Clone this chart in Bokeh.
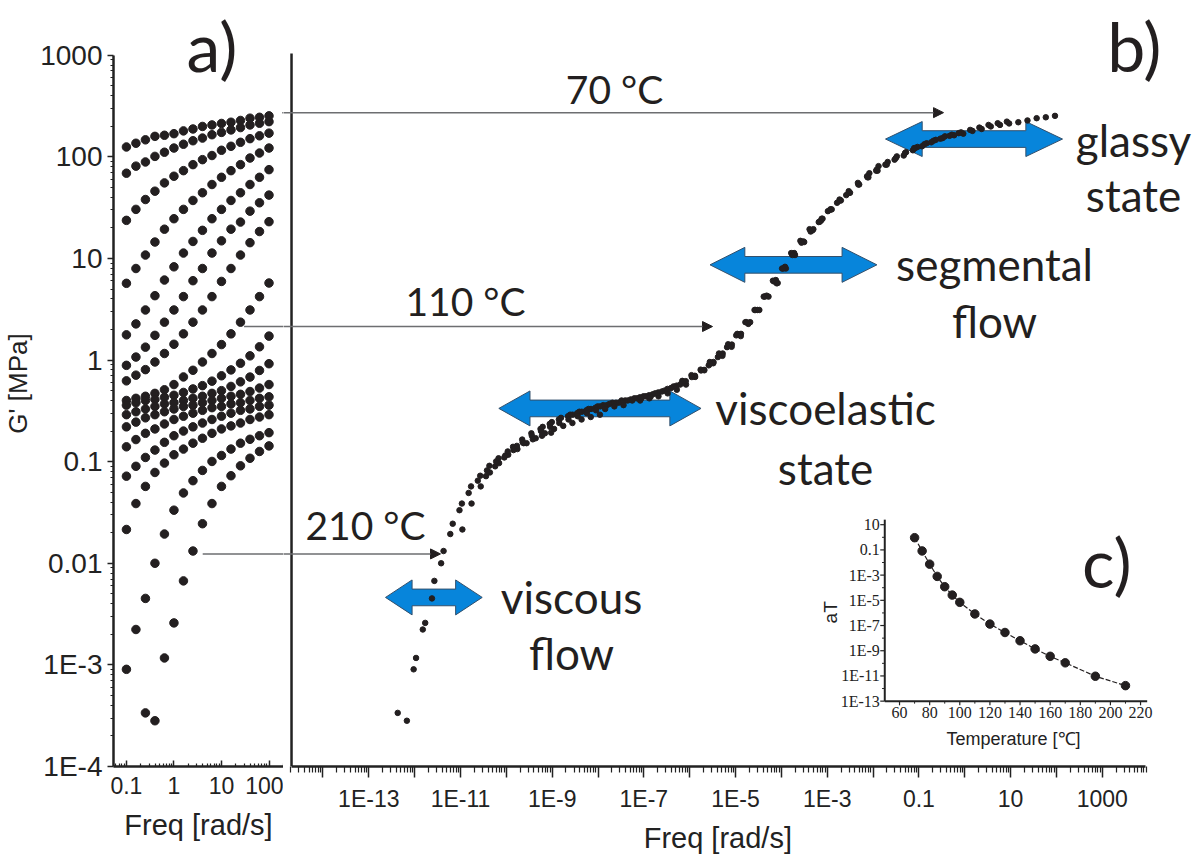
import math
from bokeh.plotting import figure
from bokeh.layouts import row
from bokeh.models import (Range1d, LogScale, LinearScale, FixedTicker, CustomJSTickFormatter,
                          Label, LabelSet, Arrow, NormalHead, ColumnDataSource)
from bokeh.embed import file_html
from bokeh.resources import INLINE

# ---------------- data ----------------
freq = [0.1, 0.1585, 0.2512, 0.3981, 0.631, 1.0, 1.585, 2.512, 3.981, 6.31,
        10.0, 15.85, 25.12, 39.81, 63.1, 100.0]
temps = [70, 75, 80, 85, 90, 95, 100, 110, 120, 130, 140, 150, 160, 170, 190, 210]
aT = [0.93, 0.083, 7.4e-3, 7.9e-4, 1.2e-4, 2.6e-5, 6.9e-6, 8.3e-7, 1.3e-7, 2.8e-8,
      6.2e-9, 1.4e-9, 3.6e-10, 1.1e-10, 9.5e-12, 1.7e-12]

NaN = float("nan")
g70 = [125, 136, 147, 159, 163, 169, 180, 188, 199, 206, 213, 219, 228, 240, 245, 253]
g75 = [69, 81, 89, 101, 111, 122, 133, 144, 153, 165, 174, 184, 194, 206, 214, 222]
g80 = [23.7, 30.4, 38, 45.9, 55.4, 64.4, 73.1, 83.8, 93.8, 103, 116, 127, 139, 151, 161, 171]
g85 = [5.69, 7.96, 10.8, 14.5, 19.4, 24.6, 30.4, 37.2, 44.3, 53.4, 62.9, 73.1, 83.8, 97.3, 109, 122]
g90 = [1.77, 2.27, 3.11, 4.30, 6.13, 8.27, 11.3, 14.7, 18.9, 24.6, 30.4, 37.2, 44.3, 53.4, 62.9, 74.8]
g95 = [0.887, 1.07, 1.34, 1.75, 2.36, 3.11, 4.21, 6.04, 7.96, 11.3, 14.9, 19.4, 22.8, 29.2, 35.3, 42.0]
g100 = [0.624, 0.710, 0.805, 0.957, 1.16, 1.43, 1.81, 2.36, 3.11, 4.21, 5.94, 7.96, 10.8, 14.3, 18.4, 23.0]
g110 = [0.40, 0.42, 0.44, 0.47, 0.51, 0.574, 0.682, 0.793, 0.957, 1.16, 1.42, 1.81, 2.36, 3.11, 4.21, 5.73]
g120 = [0.36, 0.38, 0.40, 0.41, 0.43, 0.45, 0.48, 0.52, 0.56, 0.62, 0.70, 0.80, 0.93, 1.10, 1.35, 1.72]
g130 = [0.29, 0.31, 0.33, 0.35, 0.37, 0.38, 0.40, 0.42, 0.44, 0.47, 0.50, 0.55, 0.61, 0.68, 0.79, 0.92]
g140 = [0.22, 0.245, 0.27, 0.29, 0.31, 0.33, 0.35, 0.36, 0.38, 0.40, 0.42, 0.44, 0.46, 0.49, 0.53, 0.574]
g150 = [0.14, 0.165, 0.19, 0.21, 0.235, 0.26, 0.28, 0.30, 0.32, 0.34, 0.35, 0.37, 0.38, 0.40, 0.42, 0.435]
g160 = [0.072, 0.09, 0.11, 0.13, 0.155, 0.18, 0.20, 0.22, 0.24, 0.26, 0.28, 0.30, 0.32, 0.33, 0.35, 0.36]
g170 = [0.0215, 0.0387, 0.0571, 0.0783, 0.0968, 0.117, 0.133, 0.152, 0.17, 0.19, 0.21, 0.225, 0.24, 0.26, 0.275, 0.29]
g190 = [0.000904, 0.00223, 0.00451, 0.0100, 0.0194, 0.0333, 0.0492, 0.0650, 0.0820, 0.1005,
        0.115, 0.133, 0.152, 0.166, 0.180, 0.193]
g210 = [NaN, NaN, 0.000337, 0.000282, 0.00117, 0.00259, 0.00671, 0.0132, 0.0245, 0.0387,
        0.0571, 0.0727, 0.0910, 0.108, 0.126, 0.143]
G_series = [g70, g75, g80, g85, g90, g95, g100, g110, g120, g130, g140, g150, g160, g170, g190, g210]

# inset ticks
inset_xticks = [60, 80, 100, 120, 140, 160, 180, 200, 220]
inset_yticks = [1e1, 1e-1, 1e-3, 1e-5, 1e-7, 1e-9, 1e-11, 1e-13]
inset_ylabels = ["10", "0.1", "1E-3", "1E-5", "1E-7", "1E-9", "1E-11", "1E-13"]

# ---------------- styling constants ----------------
INK = "#231f20"
AX = "#222222"
BLUE = "#0785db"
BLUE_EDGE = "#34506c"
TXT_FONT = "Lato"
AX_FONT = "Liberation Sans"

YR = Range1d(1e-4, 10 ** 3.5385)

pa = figure(width=283, height=856, x_axis_type="log", y_axis_type="log",
            x_range=Range1d(10 ** -1.272, 10 ** 2.305), y_range=YR,
            output_backend="svg", toolbar_location=None,
            min_border_left=112, min_border_right=0, min_border_top=0, min_border_bottom=86)
pb = figure(width=917, height=856, x_axis_type="log", y_axis_type="log",
            x_range=Range1d(10 ** -14.861, 10 ** 5.143), y_range=YR, y_axis_location=None,
            output_backend="svg", toolbar_location=None,
            min_border_left=0, min_border_right=0, min_border_top=0, min_border_bottom=86)

for p in (pa, pb):
    p.outline_line_color = None
    p.grid.visible = False
    p.background_fill_color = "white"
    p.border_fill_color = "white"

def style_axis(ax):
    ax.axis_line_width = 2.5
    ax.axis_line_color = AX
    ax.major_tick_line_color = AX
    ax.minor_tick_line_color = AX
    ax.major_tick_line_width = 1.5
    ax.minor_tick_line_width = 1.2
    ax.major_label_text_font = AX_FONT
    ax.major_label_text_color = AX
    ax.axis_label_text_font = AX_FONT
    ax.axis_label_text_font_style = "normal"
    ax.axis_label_text_color = AX

fmt_all = CustomJSTickFormatter(code="""
const e = Math.round(Math.log10(tick));
if (e <= -3) return "1E" + e;
if (e < 0) return Math.pow(10, e).toFixed(-e);
return String(Math.round(Math.pow(10, e)));
""")
fmt_odd = CustomJSTickFormatter(code="""
const e = Math.round(Math.log10(tick));
if (Math.abs(e) % 2 == 0) return "";
if (e <= -3) return "1E" + e;
if (e < 0) return Math.pow(10, e).toFixed(-e);
return String(Math.round(Math.pow(10, e)));
""")

ya = pa.yaxis[0]
style_axis(ya)
ya.bounds = (1e-4, 1e3)
ya.ticker = FixedTicker(ticks=[10.0 ** k for k in range(-4, 4)],
                        minor_ticks=[m * 10.0 ** k for k in range(-4, 3) for m in range(2, 10)])
ya.formatter = fmt_all
ya.major_label_text_font_size = "28px"
ya.major_tick_out = 6
ya.major_tick_in = 0
ya.minor_tick_out = 3
ya.minor_tick_in = 0
ya.major_label_standoff = 5
ya.axis_label = "G' [MPa]"
ya.axis_label_text_font_size = "26px"
ya.axis_label_standoff = 4

xa = pa.xaxis[0]
style_axis(xa)
xa.ticker = FixedTicker(ticks=[0.1, 1.0, 10.0, 100.0],
                        minor_ticks=[m * 10.0 ** k for k in range(-2, 3) for m in range(2, 10)])
xa.formatter = fmt_all
xa.major_label_text_font_size = "23px"
xa.major_tick_in = 6
xa.major_tick_out = 0
xa.minor_tick_in = 3
xa.minor_tick_out = 0
xa.major_label_standoff = 10
xa.axis_label = "Freq [rad/s]"
xa.axis_label_text_font_size = "29px"
xa.axis_label_standoff = 12

xb = pb.xaxis[0]
style_axis(xb)
xb.bounds = (10 ** -14.686, 10 ** 3.943)
xb.ticker = FixedTicker(ticks=[10.0 ** k for k in range(-14, 4)],
                        minor_ticks=[m * 10.0 ** k for k in range(-15, 4) for m in range(2, 10)])
xb.formatter = fmt_odd
xb.major_label_text_font_size = "23px"
xb.major_tick_out = 11
xb.major_tick_in = 0
xb.minor_tick_out = 6
xb.minor_tick_in = 0
xb.major_label_standoff = 8
# trailing no-break spaces shift the centred title left, under the axis bounds
xb.axis_label = "Freq [rad/s]" + "\u00a0" * 6
xb.axis_label_text_font_size = "29px"
xb.axis_label_standoff = 7

# panel b left axis line
B_AXIS_X = 10 ** -14.686
pb.segment(x0=[B_AXIS_X], y0=[1e-4], x1=[B_AXIS_X], y1=[10 ** 3.017], line_color=AX, line_width=2.5)

# ---------------- panel a data ----------------
ax_x, ax_y = [], []
for g in G_series:
    for f, v in zip(freq, g):
        if not math.isnan(v):
            ax_x.append(f)
            ax_y.append(v)
pa.scatter(ax_x, ax_y, size=8.5, color=INK)

# ---------------- blue double arrows (log-decade anchors) ----------------
# left tip, right tip, centre (log10 Hz, log10 MPa), head length (decades)
blue_arrows = [
    (-1.728, 2.133, 2.175, 0.80),    # glassy
    (-5.557, -1.916, 0.937, 0.76),   # segmental
    (-10.164, -5.753, -0.476, 0.68), # viscoelastic
    (-12.636, -10.526, -2.336, 0.58) # viscous
]
HEAD_H = 0.172
SHAFT_H = 0.082
bxs, bys = [], []
for l, r, c, h in blue_arrows:
    px = [l, l + h, l + h, r - h, r - h, r, r - h, r - h, l + h, l + h]
    py = [c, c + HEAD_H, c + SHAFT_H, c + SHAFT_H, c + HEAD_H, c, c - HEAD_H, c - SHAFT_H, c - SHAFT_H, c - HEAD_H]
    bxs.append([10 ** v for v in px])
    bys.append([10 ** v for v in py])
pb.patches(bxs, bys, fill_color=BLUE, line_color=BLUE_EDGE, line_width=1)

# ---------------- master curve (panel b) ----------------
mx, my = [], []
for g, a in zip(G_series, aT):
    for f, v in zip(freq, g):
        if not math.isnan(v):
            mx.append(f * a)
            my.append(v)
pb.scatter(mx, my, size=5.5, color=INK)

# ---------------- thin arrows from panel a to panel b ----------------
thin_arrows = [(10 ** 2.278, 10 ** 2.435, 10 ** -0.463),
               (10 ** 1.475, 10 ** 0.330, 10 ** -5.502),
               (10 ** 0.605, 10 ** -1.908, 10 ** -11.436)]
ARROW_GREY = "#6d6e71"
pa.segment(x0=[t[0] for t in thin_arrows], y0=[t[1] for t in thin_arrows],
           x1=[1e4] * 3, y1=[t[1] for t in thin_arrows], line_color=ARROW_GREY, line_width=1.5)
for s, yv, e in thin_arrows:
    pb.add_layout(Arrow(end=NormalHead(size=10, fill_color=INK, line_color=INK),
                        x_start=1e-17, y_start=yv, x_end=e, y_end=yv,
                        line_color=ARROW_GREY, line_width=1.5))

# ---------------- text annotations ----------------
def txt(p, x, y, s, size="44px", font=TXT_FONT, **kw):
    p.add_layout(Label(x=x, y=y, text=s, text_font=font, text_font_size=size,
                       text_color=INK, text_align="center", text_baseline="middle", **kw))

txt(pb, 10 ** -7.640, 10 ** 2.667, "70 °C", size="39px")
txt(pb, 10 ** -10.891, 10 ** 0.582, "110 °C", size="39px")
txt(pb, 10 ** -13.072, 10 ** -1.621, "210 °C", size="39px")
txt(pb, 10 ** 3.682, 10 ** 2.168, "glassy")
txt(pb, 10 ** 3.682, 10 ** 1.620, "state")
txt(pb, 10 ** 0.650, 10 ** 0.944, "segmental")
txt(pb, 10 ** 0.650, 10 ** 0.386, "flow")
txt(pb, 10 ** -3.037, 10 ** -0.476, "viscoelastic")
txt(pb, 10 ** -3.037, 10 ** -1.063, "state")
txt(pb, 10 ** -8.578, 10 ** -2.336, "viscous")
txt(pb, 10 ** -8.578, 10 ** -2.884, "flow")
txt(pa, 10 ** 0.80, 10 ** 3.10, "a)", size="68px")
txt(pb, 10 ** 3.70, 10 ** 3.10, "b)", size="68px")
txt(pb, 10 ** 3.10, 10 ** -1.98, "c)", size="68px")

# ---------------- inset c (drawn inside panel b on its own ranges) ----------------
pb.extra_x_ranges = {"T": Range1d(-348.96, 259.8)}
pb.extra_x_scales = {"T": LinearScale()}
pb.extra_y_ranges = {"aT": Range1d(10 ** -18.185, 10 ** 42.59)}
pb.extra_y_scales = {"aT": LogScale()}
IN = dict(x_range_name="T", y_range_name="aT")
T0 = 50.2
Y0 = 1e-13
YTOP = 10 ** 1.4
XEND = 224.4

pb.segment(x0=[T0, T0], y0=[Y0, Y0], x1=[T0, XEND], y1=[YTOP, Y0], line_color=AX, line_width=2, **IN)
pb.segment(x0=[T0 - 3.0] * len(inset_yticks), y0=inset_yticks, x1=[T0] * len(inset_yticks), y1=inset_yticks,
           line_color=AX, line_width=1.2, **IN)
minor_y = [10.0 ** k for k in range(-12, 1, 2)]
pb.segment(x0=[T0 - 1.8] * len(minor_y), y0=minor_y, x1=[T0] * len(minor_y), y1=minor_y,
           line_color=AX, line_width=1, **IN)
pb.segment(x0=inset_xticks, y0=[Y0] * len(inset_xticks), x1=inset_xticks, y1=[10 ** -13.33] * len(inset_xticks),
           line_color=AX, line_width=1.2, **IN)
minor_x = [70, 90, 110, 130, 150, 170, 190, 210]
pb.segment(x0=minor_x, y0=[Y0] * len(minor_x), x1=minor_x, y1=[10 ** -13.2] * len(minor_x),
           line_color=AX, line_width=1, **IN)

pb.line(temps, aT, line_color=INK, line_width=1.2, line_dash="5 2", **IN)
pb.scatter(temps, aT, size=8.5, color=INK, **IN)

ysrc = ColumnDataSource(dict(x=[T0] * len(inset_yticks), y=inset_yticks, t=inset_ylabels))
pb.add_layout(LabelSet(x="x", y="y", text="t", source=ysrc, x_offset=-5, text_align="right",
                       text_baseline="middle", text_font=AX_FONT, text_font_size="16px",
                       text_color=AX, **IN))
xsrc = ColumnDataSource(dict(x=inset_xticks, y=[Y0] * len(inset_xticks), t=[str(v) for v in inset_xticks]))
pb.add_layout(LabelSet(x="x", y="y", text="t", source=xsrc, y_offset=-6, text_align="center",
                       text_baseline="top", text_font=AX_FONT, text_font_size="16px",
                       text_color=AX, **IN))
pb.add_layout(Label(x=135.7, y=10 ** -15.98, text="Temperature [℃]", text_font=AX_FONT,
                    text_font_size="18px", text_color=AX, text_align="center",
                    text_baseline="middle", **IN))
pb.add_layout(Label(x=14.2, y=10 ** -5.95, text="aT", text_font=AX_FONT, angle=math.pi / 2,
                    text_font_size="19px", text_color=AX, text_align="center",
                    text_baseline="middle", **IN))

layout = row(pa, pb)
open("out.html", "w").write(file_html(layout, INLINE))
